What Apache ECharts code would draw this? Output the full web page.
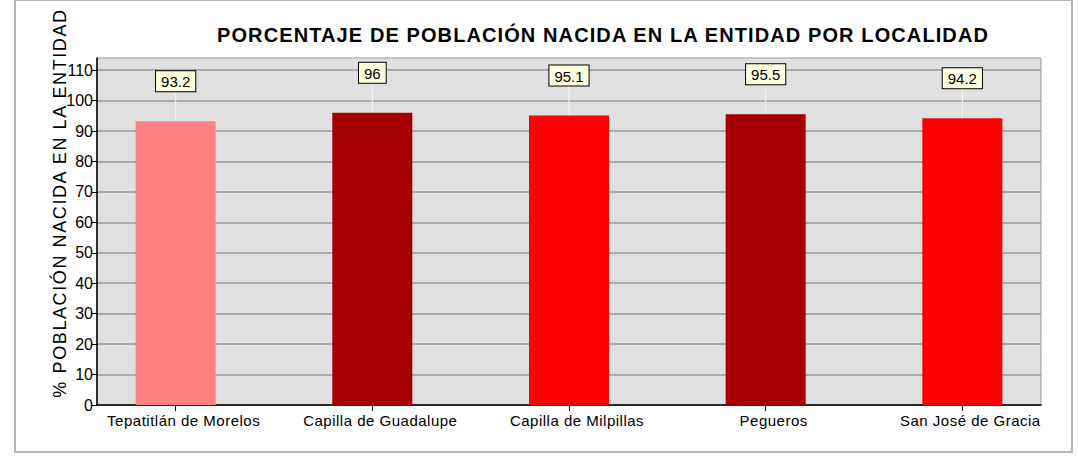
<!DOCTYPE html>
<html><head><meta charset="utf-8">
<script src="https://cdn.jsdelivr.net/npm/echarts@6/dist/echarts.min.js"></script>
<style>html,body{margin:0;padding:0;background:#fff}#c{width:1078px;height:458px}</style>
</head><body><div id="c"></div>
<script>
const categories = ['Tepatitlán de Morelos','Capilla de Guadalupe','Capilla de Milpillas','Pegueros','San José de Gracia'];
const values = [93.2, 96, 95.1, 95.5, 94.2];
const barColors = ['#FF8080','#A50000','#FF0000','#A50000','#FF0000'];
const yTicks = [0,10,20,30,40,50,60,70,80,90,100,110];
const titleText = 'PORCENTAJE DE POBLACIÓN NACIDA EN LA ENTIDAD POR LOCALIDAD';
const yAxisName = '% POBLACIÓN NACIDA EN LA ENTIDAD';
const LABEL_GAP = 30;
const FONT = 'Liberation Sans, Arial, sans-serif';
const catIdx = categories.map((c,i)=>i);

const chart = echarts.init(document.getElementById('c'), null, {renderer:'svg'});
chart.setOption({
  animation:false,
  backgroundColor:'#fff',
  title:{text:titleText,left:598,top:20,textAlign:'center',
    textStyle:{fontFamily:FONT,fontWeight:'bold',fontSize:20,color:'#000'}},
  graphic:[
    {type:'rect',shape:{x:15,y:0,width:1057,height:452},style:{fill:'none',stroke:'#b4b4b4',lineWidth:2},silent:true,z:-1},
    {type:'text',x:60,y:203,rotation:Math.PI/2,silent:true,
      style:{text:yAxisName,fontFamily:FONT,fontSize:18,fill:'#000',align:'center',verticalAlign:'middle'}}
  ],
  grid:{left:97,right:37,top:58,bottom:53,show:true,backgroundColor:'#E0E0E0',borderColor:'#999',borderWidth:1},
  xAxis:{type:'value',min:-0.4,max:4.4,
    axisLine:{onZero:false,lineStyle:{color:'#000',width:1.5}},
    axisTick:{show:true,customValues:catIdx,length:6,lineStyle:{color:'#000'}},
    splitLine:{show:false},
    axisLabel:{customValues:catIdx,color:'#000',fontFamily:FONT,fontSize:15,margin:8,padding:[0,0,0,16],
      formatter:v=>categories[Math.round(v)]}},
  yAxis:{type:'value',min:0,max:114,
    axisLine:{show:true,onZero:false,lineStyle:{color:'#000',width:1.5}},
    axisTick:{show:true,customValues:yTicks,length:5,lineStyle:{color:'#000'}},
    axisLabel:{customValues:yTicks,color:'#000',fontFamily:FONT,fontSize:16,margin:4},
    splitLine:{lineStyle:{color:'#999',width:1.5}}},
  series:[
    {type:'bar',barWidth:80,
      data:values.map((v,i)=>({value:[i,v],itemStyle:{color:barColors[i]}})),
      label:{show:true,position:'top',distance:LABEL_GAP,color:'#000',fontFamily:FONT,fontSize:15,
        formatter:p=>String(p.value[1]),
        backgroundColor:'#FFFFE0',borderColor:'#000',borderWidth:1,padding:[3,5,2,5]},
      z:2},
    {type:'custom',z:1,data:values.map((v,i)=>[i,v]),
      renderItem:(params,api)=>{
        const p=api.coord([api.value(0),api.value(1)]);
        return {type:'line',shape:{x1:p[0],y1:p[1],x2:p[0],y2:p[1]-LABEL_GAP},style:{stroke:'#F4F4F4',lineWidth:1}};
      }}
  ]
});
// widen letter spacing, as in the reference
document.querySelectorAll('#c svg text').forEach(t=>{
  const s=t.textContent;
  if(s===titleText){t.setAttribute('letter-spacing','1.1px');}
  else if(s===yAxisName){t.setAttribute('letter-spacing','1.6px');}
  else if(categories.includes(s)){t.setAttribute('letter-spacing','0.5px');}
});
</script></body></html>
